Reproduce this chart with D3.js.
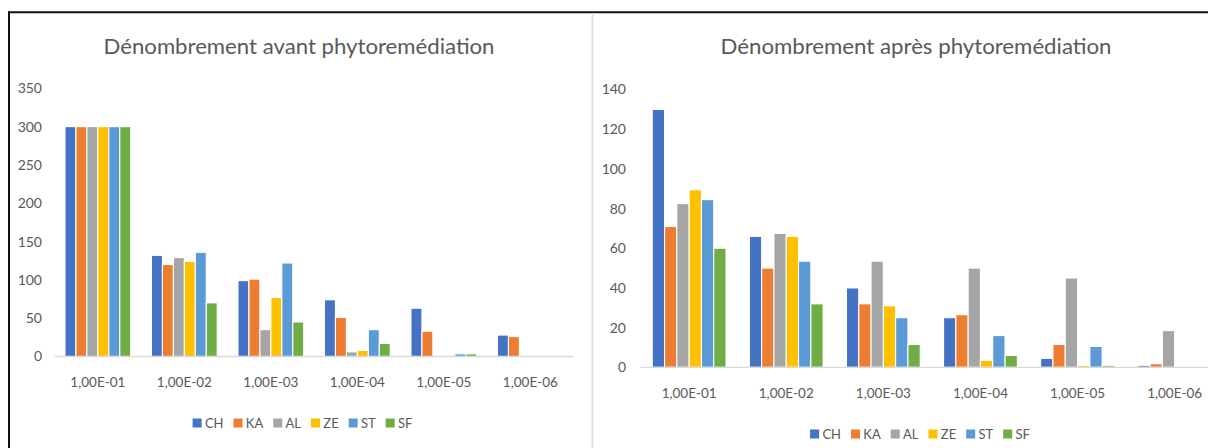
<!DOCTYPE html>
<html>
<head>
<meta charset="utf-8">
<script src="https://cdn.jsdelivr.net/npm/d3@7"></script>
<style>
  html, body { margin: 0; padding: 0; background: #fff; }
  svg { display: block; font-family: Lato, "Open Sans", "Liberation Sans", sans-serif; }
</style>
</head>
<body>
<svg id="chart" width="1208" height="448"></svg>
<script>
// Dilutions (x categories) and strains (series)
const categories = ["1,00E-01", "1,00E-02", "1,00E-03", "1,00E-04", "1,00E-05", "1,00E-06"];
const seriesNames = ["CH", "KA", "AL", "ZE", "ST", "SF"];
const seriesColors = ["#4472C4", "#ED7D31", "#A5A5A5", "#FFC000", "#5B9BD5", "#70AD47"];

// Counts before phytoremediation
const avantCH = [300, 132, 99, 74, 63, 28];
const avantKA = [300, 120, 101, 51, 33, 26];
const avantAL = [300, 129, 35, 6, 0, 0];
const avantZE = [300, 124, 77, 8, 0, 0];
const avantST = [300, 136, 122, 35, 3.5, 0];
const avantSF = [300, 70, 45, 17, 3.5, 0];

// Counts after phytoremediation
const apresCH = [130, 66, 40, 25, 4.5, 1];
const apresKA = [71, 50, 32, 26.5, 11.5, 1.8];
const apresAL = [82.5, 67.5, 53.5, 50, 45, 18.5];
const apresZE = [89.5, 66, 31, 3.5, 1, 0];
const apresST = [84.5, 53.5, 25, 16, 10.5, 0];
const apresSF = [60, 32, 11.5, 6, 1, 0];

// Y-axis tick values
const avantTicks = [0, 50, 100, 150, 200, 250, 300, 350];
const apresTicks = [0, 20, 40, 60, 80, 100, 120, 140];

const svg = d3.select("#chart");
const textColor = "#595959";

// Frame: black top/left rule and light divider between the two panels
svg.append("line").attr("x1", 8).attr("x2", 1208).attr("y1", 12.3).attr("y2", 12.3)
  .attr("stroke", "#111").attr("stroke-width", 2);
svg.append("line").attr("x1", 9).attr("x2", 9).attr("y1", 11.3).attr("y2", 448)
  .attr("stroke", "#111").attr("stroke-width", 2);
svg.append("line").attr("x1", 592.5).attr("x2", 592.5).attr("y1", 13.3).attr("y2", 448)
  .attr("stroke", "#e3e3e3").attr("stroke-width", 2);

function drawPanel(opt) {
  const g = svg.append("g");
  const rows = categories.map((c, i) => ({
    cat: c,
    values: seriesNames.map((s, j) => ({ key: s, value: opt.series[j][i], color: seriesColors[j] }))
  }));

  const x = d3.scaleBand().domain(categories).range([opt.x0, opt.x1])
    .paddingInner(0.24).paddingOuter(0.12);
  const xs = d3.scaleBand().domain(seriesNames).range([0, x.bandwidth()]);
  const y = d3.scaleLinear().domain([0, opt.max]).range([opt.yBase, opt.yTop]);

  // Title
  g.append("text")
    .attr("x", opt.titleX).attr("y", 54)
    .attr("text-anchor", "middle")
    .attr("font-size", 21.5)
    .attr("fill", textColor)
    .attr("textLength", 391).attr("lengthAdjust", "spacingAndGlyphs")
    .text(opt.title);

  // Y axis labels (no gridlines)
  const yAxis = g.append("g")
    .attr("transform", `translate(${opt.labelRight},0)`)
    .call(d3.axisLeft(y).tickValues(opt.ticks).tickSize(0).tickPadding(0));
  yAxis.select(".domain").remove();
  yAxis.selectAll("text").attr("font-size", 14).attr("fill", textColor)
    .attr("font-family", "Lato, 'Open Sans', sans-serif");

  // Bars, each with a thin white outline
  const groups = g.append("g").selectAll("g").data(rows).join("g")
    .attr("transform", d => `translate(${x(d.cat)},0)`);
  groups.selectAll("rect").data(d => d.values).join("rect")
    .attr("x", d => xs(d.key))
    .attr("width", xs.bandwidth())
    .attr("y", d => y(d.value))
    .attr("height", d => y(0) - y(d.value))
    .attr("fill", d => d.color)
    .attr("stroke", "#fff")
    .attr("stroke-width", d => d.value > 0 ? 1.1 : 0);

  // Category axis
  const xAxis = g.append("g")
    .attr("transform", `translate(0,${y(0)})`)
    .call(d3.axisBottom(x).tickSize(0).tickPadding(0));
  xAxis.select(".domain").attr("stroke", "#d9d9d9").attr("stroke-width", 1.3)
    .attr("d", `M${opt.x0},0H${opt.x1}`);
  xAxis.selectAll("text").attr("font-size", 13.5).attr("fill", textColor)
    .attr("font-family", "Lato, 'Open Sans', sans-serif")
    .attr("y", 25.5).attr("dy", "0.35em");

  // Legend
  const leg = g.append("g");
  let cx = 0;
  seriesNames.forEach((s, j) => {
    const item = leg.append("g").attr("transform", `translate(${cx},0)`);
    item.append("rect").attr("x", 0).attr("y", -4.5).attr("width", 9).attr("height", 9)
      .attr("fill", seriesColors[j]);
    const t = item.append("text").attr("x", 12.3).attr("y", 0).attr("dy", "0.36em")
      .attr("font-size", 13).attr("fill", textColor).text(s);
    cx += 12.3 + t.node().getComputedTextLength() + 10;
  });
  const legWidth = cx - 10;
  leg.attr("transform", `translate(${opt.legendCenter - legWidth / 2},${opt.legendY})`);
}

drawPanel({
  title: "Dénombrement avant phytoremédiation",
  titleX: 299,
  series: [avantCH, avantKA, avantAL, avantZE, avantST, avantSF],
  max: 350, ticks: avantTicks,
  x0: 54.6, x1: 573.6, yBase: 356.5, yTop: 88.3,
  labelRight: 42,
  legendCenter: 302.5, legendY: 423
});

drawPanel({
  title: "Dénombrement après phytoremédiation",
  titleX: 916,
  series: [apresCH, apresKA, apresAL, apresZE, apresST, apresSF],
  max: 140, ticks: apresTicks,
  x0: 640.6, x1: 1223.2, yBase: 367.3, yTop: 89.5,
  labelRight: 626,
  legendCenter: 920, legendY: 434
});
</script>
</body>
</html>
